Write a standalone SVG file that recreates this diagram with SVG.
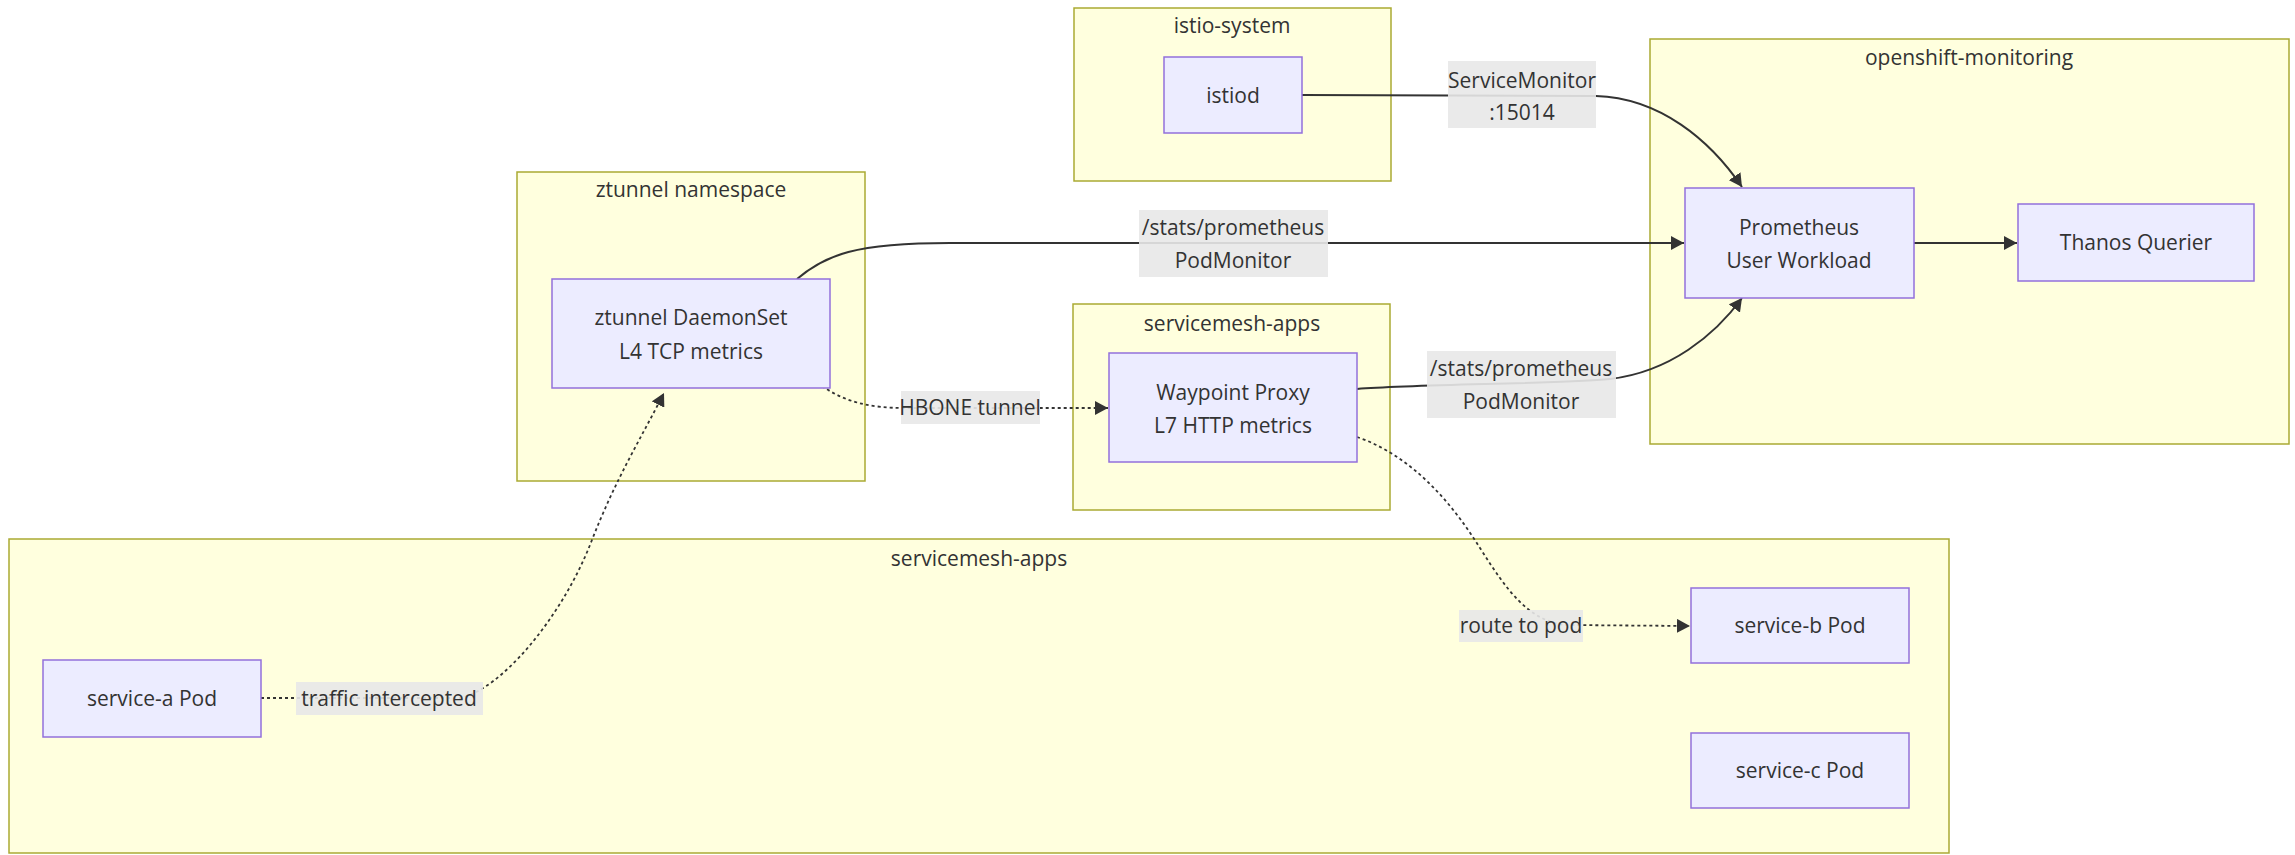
<svg xmlns="http://www.w3.org/2000/svg" width="2295" height="855" viewBox="0 0 2295 855">
<style>
.cluster{fill:#ffffde;stroke:#aaaa33;stroke-width:1.5}
.node{fill:#ececff;stroke:#9370db;stroke-width:1.5}
text{font-family:"Open Sans","DejaVu Sans",sans-serif;font-size:21px;fill:#333;text-anchor:middle;dominant-baseline:central}
.edge{fill:none;stroke:#333;stroke-width:2}
.dot{stroke-dasharray:3 3;stroke-width:1.8}
.lbl{fill:#e8e8e8;opacity:0.9}
</style>
<defs>
<marker id="arr" markerUnits="userSpaceOnUse" markerWidth="14" markerHeight="14" refX="13" refY="7" orient="auto">
<path d="M0,0 L13,7 L0,14 z" fill="#333"/>
</marker>
</defs>
<rect width="2295" height="855" fill="#fff"/>
<g id="clusters">
<g id="istio-system"><rect class="cluster" x="1074" y="8" width="317" height="173"/><text x="1232" y="25">istio-system</text></g>
<g id="openshift-monitoring"><rect class="cluster" x="1650" y="39" width="639" height="405"/><text x="1969" y="57">openshift-monitoring</text></g>
<g id="ztunnel-namespace"><rect class="cluster" x="517" y="172" width="348" height="309"/><text x="691" y="189">ztunnel namespace</text></g>
<g id="servicemesh-apps-top"><rect class="cluster" x="1073" y="304" width="317" height="206"/><text x="1232" y="323">servicemesh-apps</text></g>
<g id="servicemesh-apps-bottom"><rect class="cluster" x="9" y="539" width="1940" height="314"/><text x="979" y="558">servicemesh-apps</text></g>
</g>
<g id="connectors">
<path class="edge" d="M1302,95 L1596,96 C1660,98 1710,140 1742,187" marker-end="url(#arr)"/>
<path class="edge" d="M797,279 C825,255 855,243 950,243 L1684,243" marker-end="url(#arr)"/>
<path class="edge" d="M1357,389 C1420,384 1560,384 1610,379 C1670,372 1715,335 1742,298" marker-end="url(#arr)"/>
<path class="edge" d="M1914,243 L2017,243" marker-end="url(#arr)"/>
<path class="edge dot" d="M822,386 C845,402 870,408 905,408 L1108,408" marker-end="url(#arr)"/>
<path class="edge dot" d="M261,698 L460,698 C500,690 560,620 590,545 C615,480 640,440 664,393" marker-end="url(#arr)"/>
<path class="edge dot" d="M1357,437 C1410,455 1450,500 1480,548 C1508,592 1528,620 1565,625 L1690,626" marker-end="url(#arr)"/>
</g>
<g id="edge-labels">
<g id="lbl-servicemonitor"><rect class="lbl" x="1448" y="61" width="148" height="67"/><text x="1522" y="80">ServiceMonitor</text><text x="1522" y="112">:15014</text></g>
<g id="lbl-podmonitor-1"><rect class="lbl" x="1139" y="210" width="189" height="67"/><text x="1233" y="227">/stats/prometheus</text><text x="1233" y="260">PodMonitor</text></g>
<g id="lbl-podmonitor-2"><rect class="lbl" x="1427" y="351" width="189" height="67"/><text x="1521" y="368">/stats/prometheus</text><text x="1521" y="401">PodMonitor</text></g>
<g id="lbl-hbone"><rect class="lbl" x="901" y="391" width="139" height="33"/><text x="970" y="407">HBONE tunnel</text></g>
<g id="lbl-traffic"><rect class="lbl" x="296" y="682" width="187" height="33"/><text x="389" y="698">traffic intercepted</text></g>
<g id="lbl-route"><rect class="lbl" x="1459" y="610" width="124" height="32"/><text x="1521" y="625">route to pod</text></g>
</g>
<g id="istiod"><rect class="node" x="1164" y="57" width="138" height="76"/><text x="1233" y="95">istiod</text></g>
<g id="prometheus"><rect class="node" x="1685" y="188" width="229" height="110"/><text x="1799" y="227">Prometheus</text><text x="1799" y="260">User Workload</text></g>
<g id="thanos"><rect class="node" x="2018" y="204" width="236" height="77"/><text x="2136" y="242">Thanos Querier</text></g>
<g id="ztunnel"><rect class="node" x="552" y="279" width="278" height="109"/><text x="691" y="317">ztunnel DaemonSet</text><text x="691" y="351">L4 TCP metrics</text></g>
<g id="waypoint"><rect class="node" x="1109" y="353" width="248" height="109"/><text x="1233" y="392">Waypoint Proxy</text><text x="1233" y="425">L7 HTTP metrics</text></g>
<g id="service-a"><rect class="node" x="43" y="660" width="218" height="77"/><text x="152" y="698">service-a Pod</text></g>
<g id="service-b"><rect class="node" x="1691" y="588" width="218" height="75"/><text x="1800" y="625">service-b Pod</text></g>
<g id="service-c"><rect class="node" x="1691" y="733" width="218" height="75"/><text x="1800" y="770">service-c Pod</text></g>
</svg>
